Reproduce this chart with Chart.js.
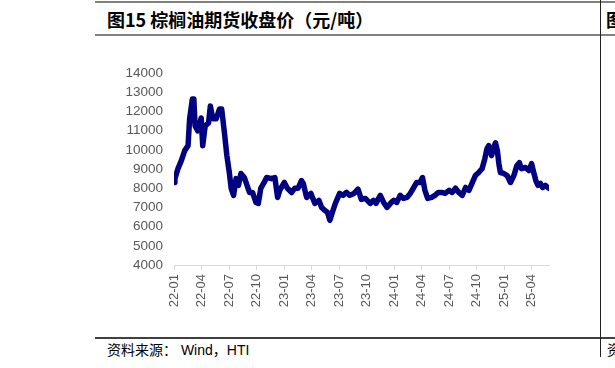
<!DOCTYPE html>
<html><head><meta charset="utf-8">
<script src="https://cdn.jsdelivr.net/npm/chart.js@4"></script>
<style>
html,body{margin:0;padding:0;width:615px;height:368px;overflow:hidden;background:#fff;position:relative;}
.ln{position:absolute;}
.t{position:absolute;white-space:nowrap;}
</style></head><body>
<div class="ln" style="left:95px;top:1px;width:520px;height:2px;background:#808080"></div>
<div class="ln" style="left:95px;top:34px;width:520px;height:2px;background:#808080"></div>
<div class="ln" style="left:95px;top:337px;width:520px;height:2px;background:#404040"></div>
<div class="ln" style="left:600px;top:0px;width:1px;height:357px;background:#222"></div>
<div class="t" style="left:107px;top:6px;font:bold 18px 'Noto Sans CJK SC';color:#000">图15 棕榈油期货收盘价（元/吨）</div>
<div class="t" style="left:606px;top:6px;font:bold 18px 'Noto Sans CJK SC';color:#000">图16</div>
<div class="t" style="left:107px;top:339px;font:14px 'Noto Sans CJK SC','Liberation Sans';color:#000">资料来源：<span style="font-family:'Liberation Sans'"> Wind</span>，<span style="font-family:'Liberation Sans'">HTI</span></div>
<div class="t" style="left:607px;top:339px;font:14px 'Noto Sans CJK SC';color:#000">资料来源</div>
<div style="position:absolute;left:100px;top:54px;width:460px;height:276px"><canvas id="c"></canvas></div>
<script>
const dates = ["2022-01-01","2022-01-04","2022-01-14","2022-01-25","2022-02-06","2022-02-17","2022-02-22","2022-03-01","2022-03-06","2022-03-10","2022-03-19","2022-03-30","2022-04-05","2022-04-13","2022-04-24","2022-04-30","2022-05-08","2022-05-19","2022-05-30","2022-06-07","2022-06-16","2022-06-24","2022-07-02","2022-07-08","2022-07-16","2022-07-24","2022-08-02","2022-08-10","2022-08-21","2022-08-30","2022-09-08","2022-09-18","2022-09-29","2022-10-07","2022-10-15","2022-10-26","2022-11-04","2022-11-20","2022-12-01","2022-12-10","2022-12-17","2023-01-02","2023-01-12","2023-01-26","2023-02-06","2023-02-17","2023-02-28","2023-03-04","2023-03-15","2023-03-29","2023-04-12","2023-04-25","2023-05-04","2023-05-14","2023-05-23","2023-05-31","2023-06-08","2023-06-19","2023-07-03","2023-07-14","2023-07-25","2023-08-06","2023-08-20","2023-09-03","2023-09-14","2023-09-27","2023-10-13","2023-10-24","2023-11-02","2023-11-16","2023-11-27","2023-12-08","2023-12-19","2023-12-30","2024-01-10","2024-01-21","2024-02-02","2024-02-13","2024-02-24","2024-03-04","2024-03-15","2024-03-26","2024-04-04","2024-04-12","2024-04-21","2024-05-04","2024-05-15","2024-05-26","2024-06-07","2024-06-18","2024-07-01","2024-07-11","2024-07-22","2024-08-03","2024-08-14","2024-08-25","2024-09-06","2024-09-16","2024-09-27","2024-10-08","2024-10-19","2024-10-28","2024-11-05","2024-11-11","2024-11-20","2024-11-27","2024-12-03","2024-12-09","2024-12-14","2024-12-19","2024-12-30","2025-01-11","2025-01-22","2025-02-03","2025-02-13","2025-02-21","2025-02-28","2025-03-11","2025-03-22","2025-03-31","2025-04-08","2025-04-15","2025-04-22","2025-04-30","2025-05-07","2025-05-16","2025-05-27"];
const closePrices = [8300,8500,9020,9440,9960,10220,11600,12650,12650,11250,10990,11660,10220,11250,11400,12290,11620,11620,12130,12130,10890,9700,8820,8000,7630,8500,8150,8770,8560,8150,7780,7780,7260,7210,8000,8300,8560,8500,8560,7520,7890,8300,8000,7780,8000,8000,8400,8250,7520,7730,7210,7370,7000,6850,6750,6330,6690,7210,7730,7630,7780,7630,7730,7950,7420,7470,7210,7370,7210,7630,7260,7000,7210,7370,7260,7630,7470,7520,7730,8000,8300,8300,8560,7890,7470,7520,7630,7780,7780,7730,7890,7780,8000,7780,7630,8040,7890,8250,8660,8820,9020,9540,10060,10220,9700,10110,10370,9960,9280,8820,8770,8660,8300,8660,9180,9330,9020,9080,8920,9280,8820,8400,8150,8250,8040,8150,8000];
const tickLabels = ["22-01","22-04","22-07","22-10","23-01","23-04","23-07","23-10","24-01","24-04","24-07","24-10","25-01","25-04"];
const yTicks = [4000,5000,6000,7000,8000,9000,10000,11000,12000,13000,14000];

function dateToMonth(s){const p=s.split('-').map(Number);return (p[0]-2022)*12+(p[1]-1)+(p[2]-1)/30;}
function labelToMonth(s){const p=s.split('-').map(Number);return (p[0]-22)*12+(p[1]-1);}
const points = dates.map((d,i)=>({x:dateToMonth(d),y:closePrices[i]}));
const tickMap = {}; tickLabels.forEach(l=>{tickMap[labelToMonth(l)]=l;});

new Chart(document.getElementById('c'),{
  type:'line',
  data:{datasets:[{data:points,borderColor:'#000080',backgroundColor:'#000080',borderWidth:5.5,pointRadius:0,tension:0,borderJoinStyle:'round',borderCapStyle:'round'}]},
  options:{
    responsive:true,maintainAspectRatio:false,animation:false,
    layout:{padding:{left:0,right:11,top:0,bottom:0}},
    plugins:{legend:{display:false},tooltip:{enabled:false}},
    scales:{
      x:{type:'linear',min:0,max:40.9,
        afterBuildTicks:(s)=>{s.ticks=tickLabels.map(l=>({value:labelToMonth(l)}));},
        afterFit:(s)=>{s.height=65;},
        border:{display:true,color:'#d9d9d9',width:1},
        grid:{display:true,drawOnChartArea:false,drawTicks:true,tickLength:5,color:'#d9d9d9'},
        ticks:{autoSkip:false,minRotation:90,maxRotation:90,padding:4,color:'#595959',font:{family:'Liberation Sans',size:13},callback:(v)=>tickMap[v]}
      },
      y:{type:'linear',min:4000,max:14000,
        afterBuildTicks:(s)=>{s.ticks=yTicks.map(v=>({value:v}));},
        afterFit:(s)=>{s.width=74;},
        border:{display:false},
        grid:{display:false,drawTicks:false},
        ticks:{autoSkip:false,padding:11,color:'#595959',font:{family:'Liberation Sans',size:13.5},callback:(v)=>String(v)}
      }
    }
  }
});
</script>
</body></html>
